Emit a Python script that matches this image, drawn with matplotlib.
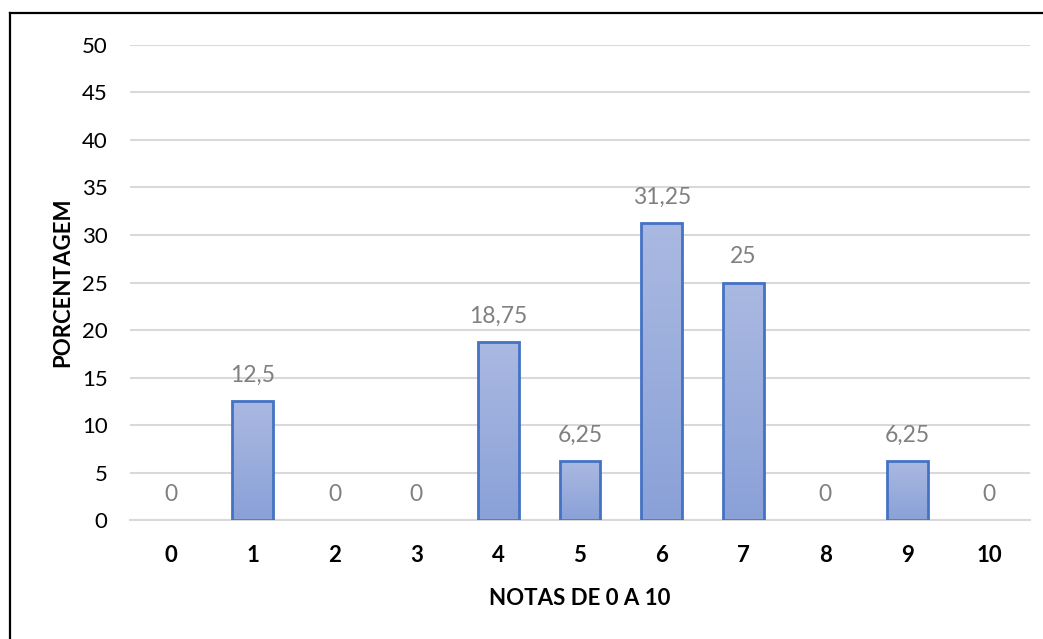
import numpy as np
import matplotlib.pyplot as plt
from matplotlib.colors import LinearSegmentedColormap
from matplotlib.lines import Line2D

# dados
notas = ['0', '1', '2', '3', '4', '5', '6', '7', '8', '9', '10']
porcentagem = [0, 12.5, 0, 0, 18.75, 6.25, 31.25, 25, 0, 6.25, 0]
rotulos = ['0', '12,5', '0', '0', '18,75', '6,25', '31,25', '25', '0', '6,25', '0']

plt.rcParams['font.family'] = ['Lato', 'DejaVu Sans']

fig = plt.figure(figsize=(10.43, 6.39), dpi=100)
ax = fig.add_axes([0.1246, 0.1862, 0.8629, 0.7434])

x = np.arange(len(notas))
bars = ax.bar(x, porcentagem, width=0.5, color='none', edgecolor='#4472C4', linewidth=2, zorder=3)

# gradiente dentro das barras
cmap = LinearSegmentedColormap.from_list('grad', ['#8AA1D8', '#AAB9E1'])
grad = np.linspace(0, 1, 256).reshape(-1, 1)
for b in bars:
    if b.get_height() <= 0:
        b.set_linewidth(0)
        continue
    x0, w, h = b.get_x(), b.get_width(), b.get_height()
    im = ax.imshow(grad, cmap=cmap, origin='lower', aspect='auto',
                   extent=[x0, x0 + w, 0, h], zorder=2)
    im.set_clip_path(b)

for xi, v, lab in zip(x, porcentagem, rotulos):
    ax.annotate(lab, (xi, v), xytext=(0, 11), textcoords='offset points',
                ha='center', va='bottom', color='#808080', fontsize=16.5)

ax.set_xlim(-0.5, 10.5)
ax.set_ylim(0, 50)
ax.set_yticks(range(0, 51, 5))
ax.set_xticks(x)
ax.set_xticklabels(notas, fontweight='bold')
ax.tick_params(axis='both', length=0, labelsize=16, colors='#000000')
ax.tick_params(axis='y', pad=16)
ax.tick_params(axis='x', pad=18)
ax.grid(axis='y', color='#D9D9D9', linewidth=1.5, zorder=0)
ax.set_axisbelow(True)
for s in ['top', 'right', 'left']:
    ax.spines[s].set_visible(False)
ax.spines['bottom'].set_color('#D9D9D9')
ax.spines['bottom'].set_linewidth(1.5)

ax.set_ylabel('PORCENTAGEM', fontweight='bold', fontsize=16, labelpad=6)
ax.set_xlabel('NOTAS DE 0 A 10', fontweight='bold', fontsize=16, labelpad=16)

# moldura (so esquerda e topo aparecem)
fx, fy = 10 / 1043, 1 - 12.5 / 639
fig.add_artist(Line2D([fx, fx], [0, fy], transform=fig.transFigure, color='black', linewidth=1.6))
fig.add_artist(Line2D([fx, 1], [fy, fy], transform=fig.transFigure, color='black', linewidth=1.6))

fig.savefig('out.png', dpi=100)
